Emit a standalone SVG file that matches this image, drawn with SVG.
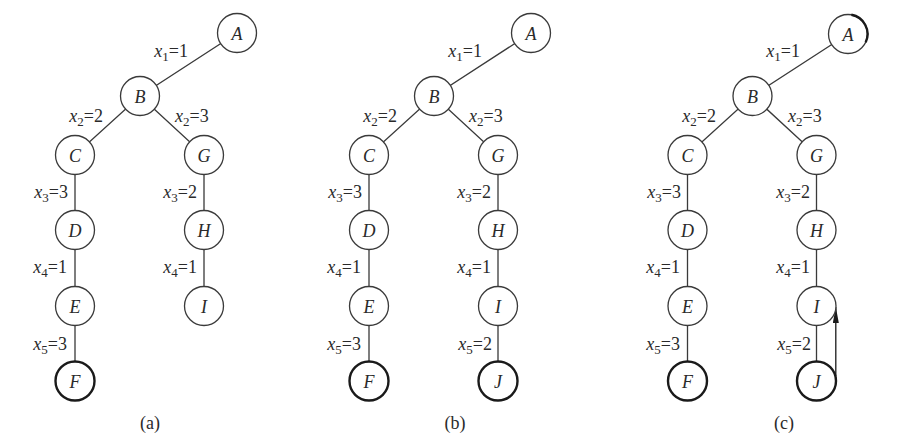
<svg xmlns="http://www.w3.org/2000/svg" width="901" height="441" viewBox="0 0 901 441">
<style>
.e{stroke:#3a3a3a;stroke-width:1.3;fill:none}
.n{fill:#fff;stroke:#3a3a3a;stroke-width:1.3}
.k{fill:#fff;stroke:#1a1a1a;stroke-width:2.4}
.t{font-family:"Liberation Serif",serif;font-size:18px;font-style:italic;fill:#2a2a2a;text-anchor:middle}
.l{font-family:"Liberation Serif",serif;font-size:18px;fill:#2a2a2a}
.s{font-size:13px}
.c{font-family:"Liberation Serif",serif;font-size:18px;fill:#2a2a2a;text-anchor:middle}
</style>
<defs>
<marker id="ah" viewBox="0 0 16 6" refX="16" refY="3" markerWidth="16" markerHeight="6" markerUnits="userSpaceOnUse" orient="auto"><path d="M0,0 L16,3 L0,6 z" fill="#1a1a1a"/></marker>
</defs>
<rect width="901" height="441" fill="#fff"/>

<g id="connectors">
<path class="e" d="M237,33 L140,96 L75,155 L75,381 M140,96 L204,155 L204,306"/>
<path class="e" d="M531,33 L434,96 L369,155 L369,381 M434,96 L498,155 L498,381"/>
<path class="e" d="M848,34 L752.5,96 L687.5,155 L687.5,381 M752.5,96 L816.5,155 L816.5,381"/>
<line x1="835.8" y1="376" x2="835.8" y2="307" stroke="#1a1a1a" stroke-width="1.3" marker-end="url(#ah)"/>
</g>

<g id="labels">
<text class="l" x="188" y="57" text-anchor="end"><tspan font-style="italic">x</tspan><tspan class="s" dy="4">1</tspan><tspan dy="-4">=1</tspan></text>
<text class="l" x="103" y="122" text-anchor="end"><tspan font-style="italic">x</tspan><tspan class="s" dy="4">2</tspan><tspan dy="-4">=2</tspan></text>
<text class="l" x="175" y="122"><tspan font-style="italic">x</tspan><tspan class="s" dy="4">2</tspan><tspan dy="-4">=3</tspan></text>
<text class="l" x="68" y="198" text-anchor="end"><tspan font-style="italic">x</tspan><tspan class="s" dy="4">3</tspan><tspan dy="-4">=3</tspan></text>
<text class="l" x="197" y="198" text-anchor="end"><tspan font-style="italic">x</tspan><tspan class="s" dy="4">3</tspan><tspan dy="-4">=2</tspan></text>
<text class="l" x="67" y="273" text-anchor="end"><tspan font-style="italic">x</tspan><tspan class="s" dy="4">4</tspan><tspan dy="-4">=1</tspan></text>
<text class="l" x="197" y="273" text-anchor="end"><tspan font-style="italic">x</tspan><tspan class="s" dy="4">4</tspan><tspan dy="-4">=1</tspan></text>
<text class="l" x="67" y="350" text-anchor="end"><tspan font-style="italic">x</tspan><tspan class="s" dy="4">5</tspan><tspan dy="-4">=3</tspan></text>

<text class="l" x="482" y="57" text-anchor="end"><tspan font-style="italic">x</tspan><tspan class="s" dy="4">1</tspan><tspan dy="-4">=1</tspan></text>
<text class="l" x="397" y="122" text-anchor="end"><tspan font-style="italic">x</tspan><tspan class="s" dy="4">2</tspan><tspan dy="-4">=2</tspan></text>
<text class="l" x="469" y="122"><tspan font-style="italic">x</tspan><tspan class="s" dy="4">2</tspan><tspan dy="-4">=3</tspan></text>
<text class="l" x="362" y="198" text-anchor="end"><tspan font-style="italic">x</tspan><tspan class="s" dy="4">3</tspan><tspan dy="-4">=3</tspan></text>
<text class="l" x="491" y="198" text-anchor="end"><tspan font-style="italic">x</tspan><tspan class="s" dy="4">3</tspan><tspan dy="-4">=2</tspan></text>
<text class="l" x="361" y="273" text-anchor="end"><tspan font-style="italic">x</tspan><tspan class="s" dy="4">4</tspan><tspan dy="-4">=1</tspan></text>
<text class="l" x="491" y="273" text-anchor="end"><tspan font-style="italic">x</tspan><tspan class="s" dy="4">4</tspan><tspan dy="-4">=1</tspan></text>
<text class="l" x="361" y="350" text-anchor="end"><tspan font-style="italic">x</tspan><tspan class="s" dy="4">5</tspan><tspan dy="-4">=3</tspan></text>
<text class="l" x="492" y="350" text-anchor="end"><tspan font-style="italic">x</tspan><tspan class="s" dy="4">5</tspan><tspan dy="-4">=2</tspan></text>

<text class="l" x="800" y="57" text-anchor="end"><tspan font-style="italic">x</tspan><tspan class="s" dy="4">1</tspan><tspan dy="-4">=1</tspan></text>
<text class="l" x="716" y="122" text-anchor="end"><tspan font-style="italic">x</tspan><tspan class="s" dy="4">2</tspan><tspan dy="-4">=2</tspan></text>
<text class="l" x="788" y="122"><tspan font-style="italic">x</tspan><tspan class="s" dy="4">2</tspan><tspan dy="-4">=3</tspan></text>
<text class="l" x="681" y="198" text-anchor="end"><tspan font-style="italic">x</tspan><tspan class="s" dy="4">3</tspan><tspan dy="-4">=3</tspan></text>
<text class="l" x="810" y="198" text-anchor="end"><tspan font-style="italic">x</tspan><tspan class="s" dy="4">3</tspan><tspan dy="-4">=2</tspan></text>
<text class="l" x="680" y="273" text-anchor="end"><tspan font-style="italic">x</tspan><tspan class="s" dy="4">4</tspan><tspan dy="-4">=1</tspan></text>
<text class="l" x="810" y="273" text-anchor="end"><tspan font-style="italic">x</tspan><tspan class="s" dy="4">4</tspan><tspan dy="-4">=1</tspan></text>
<text class="l" x="680" y="350" text-anchor="end"><tspan font-style="italic">x</tspan><tspan class="s" dy="4">5</tspan><tspan dy="-4">=3</tspan></text>
<text class="l" x="811" y="350" text-anchor="end"><tspan font-style="italic">x</tspan><tspan class="s" dy="4">5</tspan><tspan dy="-4">=2</tspan></text>
</g>

<g id="a-A"><circle class="n" cx="237" cy="33" r="19.5"/><text class="t" x="237" y="39.5">A</text></g>
<g id="a-B"><circle class="n" cx="140" cy="96" r="19.5"/><text class="t" x="140" y="102.5">B</text></g>
<g id="a-C"><circle class="n" cx="75" cy="155" r="19.5"/><text class="t" x="75" y="161.5">C</text></g>
<g id="a-G"><circle class="n" cx="204" cy="155" r="19.5"/><text class="t" x="204" y="161.5">G</text></g>
<g id="a-D"><circle class="n" cx="75" cy="230" r="19.5"/><text class="t" x="75" y="236.5">D</text></g>
<g id="a-H"><circle class="n" cx="204" cy="230" r="19.5"/><text class="t" x="204" y="236.5">H</text></g>
<g id="a-E"><circle class="n" cx="75" cy="306" r="19.5"/><text class="t" x="75" y="312.5">E</text></g>
<g id="a-I"><circle class="n" cx="204" cy="306" r="19.5"/><text class="t" x="204" y="312.5">I</text></g>
<g id="a-F"><circle class="k" cx="75" cy="381" r="19.5"/><text class="t" x="75" y="387.5">F</text></g>
<text class="c" x="150" y="429">(a)</text>

<g id="b-A"><circle class="n" cx="531" cy="33" r="19.5"/><text class="t" x="531" y="39.5">A</text></g>
<g id="b-B"><circle class="n" cx="434" cy="96" r="19.5"/><text class="t" x="434" y="102.5">B</text></g>
<g id="b-C"><circle class="n" cx="369" cy="155" r="19.5"/><text class="t" x="369" y="161.5">C</text></g>
<g id="b-G"><circle class="n" cx="498" cy="155" r="19.5"/><text class="t" x="498" y="161.5">G</text></g>
<g id="b-D"><circle class="n" cx="369" cy="230" r="19.5"/><text class="t" x="369" y="236.5">D</text></g>
<g id="b-H"><circle class="n" cx="498" cy="230" r="19.5"/><text class="t" x="498" y="236.5">H</text></g>
<g id="b-E"><circle class="n" cx="369" cy="306" r="19.5"/><text class="t" x="369" y="312.5">E</text></g>
<g id="b-I"><circle class="n" cx="498" cy="306" r="19.5"/><text class="t" x="498" y="312.5">I</text></g>
<g id="b-F"><circle class="k" cx="369" cy="381" r="19.5"/><text class="t" x="369" y="387.5">F</text></g>
<g id="b-J"><circle class="k" cx="498" cy="381" r="19.5"/><text class="t" x="498" y="387.5">J</text></g>
<text class="c" x="455" y="429">(b)</text>

<g id="c-A"><circle class="n" cx="848" cy="34" r="19.5"/><path d="M851.4,14.8 A19.5,19.5 0 0 1 865.7,42.2" fill="none" stroke="#1a1a1a" stroke-width="2.4"/><text class="t" x="848" y="40.5">A</text></g>
<g id="c-B"><circle class="n" cx="752.5" cy="96" r="19.5"/><text class="t" x="752.5" y="102.5">B</text></g>
<g id="c-C"><circle class="n" cx="687.5" cy="155" r="19.5"/><text class="t" x="687.5" y="161.5">C</text></g>
<g id="c-G"><circle class="n" cx="816.5" cy="155" r="19.5"/><text class="t" x="816.5" y="161.5">G</text></g>
<g id="c-D"><circle class="n" cx="687.5" cy="230" r="19.5"/><text class="t" x="687.5" y="236.5">D</text></g>
<g id="c-H"><circle class="n" cx="816.5" cy="230" r="19.5"/><text class="t" x="816.5" y="236.5">H</text></g>
<g id="c-E"><circle class="n" cx="687.5" cy="306" r="19.5"/><text class="t" x="687.5" y="312.5">E</text></g>
<g id="c-I"><circle class="n" cx="816.5" cy="306" r="19.5"/><text class="t" x="816.5" y="312.5">I</text></g>
<g id="c-F"><circle class="k" cx="687.5" cy="381" r="19.5"/><text class="t" x="687.5" y="387.5">F</text></g>
<g id="c-J"><circle class="k" cx="816.5" cy="381" r="19.5"/><text class="t" x="816.5" y="387.5">J</text></g>
<text class="c" x="784" y="429">(c)</text>
</svg>
